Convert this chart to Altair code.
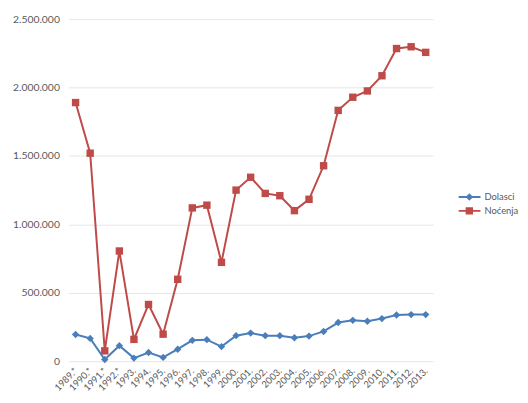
import altair as alt
import pandas as pd

years = ["1989.*", "1990.*", "1991.*", "1992.*", "1993.", "1994.", "1995.", "1996.",
         "1997.", "1998.", "1999.", "2000.", "2001.", "2002.", "2003.", "2004.",
         "2005.", "2006.", "2007.", "2008.", "2009.", "2010.", "2011.", "2012.", "2013."]
dolasci = [195000, 166000, 12000, 113000, 22000, 63000, 27000, 87000, 152000, 157000,
           106000, 186000, 205000, 186000, 186000, 171000, 183000, 217000, 282000,
           298000, 291000, 311000, 337000, 340000, 340000]
nocenja = [1890000, 1520000, 75000, 805000, 159000, 414000, 197000, 598000, 1120000,
           1140000, 722000, 1250000, 1344000, 1226000, 1209000, 1100000, 1183000,
           1428000, 1833000, 1929000, 1975000, 2086000, 2285000, 2298000, 2257000]
series = ["Dolasci", "Noćenja"]
colors = ["#4A7EBB", "#BE4B48"]
y_ticks = [0, 500000, 1000000, 1500000, 2000000, 2500000]

rows = []
for i, yr in enumerate(years):
    rows.append({"god": yr, "serija": series[0], "v": dolasci[i], "o": i})
    rows.append({"god": yr, "serija": series[1], "v": nocenja[i], "o": i})
df = pd.DataFrame(rows)

FONT = "Lato"
x = alt.X("god:N", sort=years, title=None,
          axis=alt.Axis(labelAngle=-45, labelAlign="right", labelBaseline="middle",
                        labelFontSize=9.5, labelColor="#595959", labelFont=FONT,
                        ticks=False, domain=False, grid=False, labelPadding=8))
y = alt.Y("v:Q", title=None, scale=alt.Scale(domain=[0, 2500000], nice=False),
          axis=alt.Axis(values=y_ticks, labelExpr="replace(format(datum.value, ','), /,/g, '.')",
                        labelFontSize=10.5, labelColor="#595959", labelFont=FONT,
                        ticks=False, domain=False, grid=True, gridColor="#E6E6E6",
                        labelPadding=9))

legA = alt.Legend(orient="none", legendX=394, legendY=174, title=None, padding=0,
                  symbolType="stroke", symbolSize=484, symbolStrokeWidth=2,
                  clipHeight=12, rowPadding=2, labelOffset=3, labelFontSize=9.5,
                  labelColor="#595959", labelFont=FONT)
legB = alt.Legend(orient="none", legendX=401, legendY=174, title=None, padding=0,
                  symbolSize=56, clipHeight=12, rowPadding=2, labelExpr="''",
                  labelFontSize=9.5, symbolStrokeWidth=0)

lines = alt.Chart(df).mark_line(strokeWidth=2).encode(
    x=x, y=y,
    color=alt.Color("serija:N", scale=alt.Scale(domain=series, range=colors), legend=legA),
    order="o:Q",
)
points = alt.Chart(df).mark_point(filled=True, opacity=1, size=56).encode(
    x=x, y=y,
    color=alt.Color("serija:N", scale=alt.Scale(domain=series, range=colors), legend=legB),
    shape=alt.Shape("serija:N", scale=alt.Scale(domain=series, range=["diamond", "square"]),
                    legend=legB),
)

chart = (alt.layer(lines, points)
         .resolve_scale(color="independent", shape="independent")
         .resolve_legend(color="independent", shape="independent")
         .properties(
             width=369, height=346, autosize=alt.AutoSizeParams(type="none"),
             padding={"left": 61, "top": 9, "right": 88, "bottom": 30},
         ).configure_view(stroke=None))

chart.save("out.html", embed_options={"renderer": "svg", "actions": False})
